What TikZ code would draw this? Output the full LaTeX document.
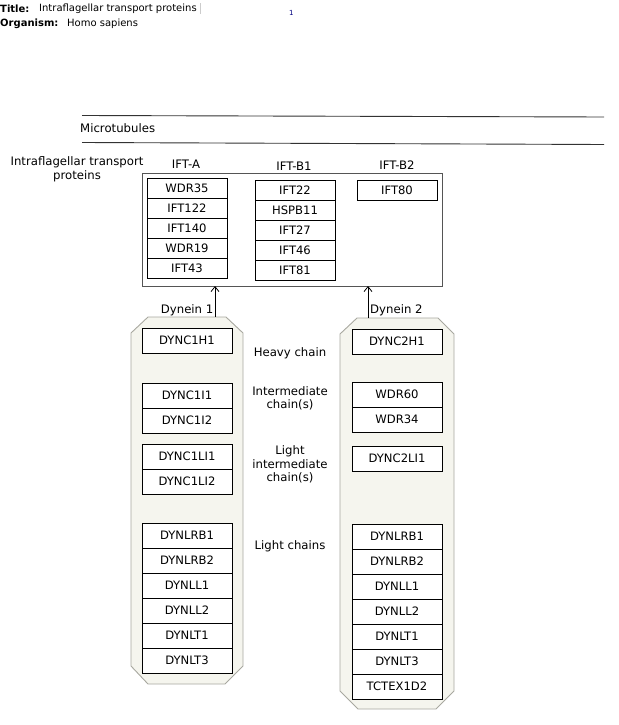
\documentclass[tikz,border=0pt]{standalone}
\usepackage{fontspec}
\setmainfont{DejaVu Sans}
\usetikzlibrary{arrows.meta}
\definecolor{octfill}{HTML}{F5F5EE}
\definecolor{octline}{HTML}{A8A8A0}
\definecolor{boxline}{HTML}{555555}
\tikzset{
  lbl/.style={font=\fontsize{11.7}{13.5}\selectfont, inner sep=0pt, align=center},
  ttl/.style={font=\fontsize{10}{12}\selectfont, inner sep=0pt, anchor=west},
  gene/.style={draw=black, line width=0.8pt, fill=white, minimum width=90pt, minimum height=25pt, inner sep=0pt, font=\fontsize{11.6}{13}\selectfont},
  ift/.style={draw=black, line width=0.8pt, fill=white, minimum width=80pt, minimum height=20pt, inner sep=0pt, font=\fontsize{11.6}{13}\selectfont},
  oct/.style={draw=octline, fill=octfill, line width=0.9pt},
  arr/.style={-{Straight Barb[length=5pt,width=8pt]}, line width=0.8pt},
}
\begin{document}
\begin{tikzpicture}[x=1pt,y=-1pt]
\useasboundingbox (0,0) rectangle (618,725);
% header
\node[ttl] (tl) at (0,9) {\textbf{Title:}};
\node[ttl] (tt) at (39,9) {Intraflagellar transport proteins};
\draw[gray!40, line width=0.6pt] (200,3.5) -- (200,14);
\node[ttl, font=\fontsize{7}{8}\selectfont, text=blue!50!black] (pg) at (289,13) {1};
\node[ttl] (ol) at (0,24) {\textbf{Organism:}};
\node[ttl] (ot) at (67,24) {Homo sapiens};
% microtubules
\coordinate (m1a) at (82,115.5);
\coordinate (m1b) at (604,117);
\coordinate (m2a) at (82,142.5);
\coordinate (m2b) at (604,144.5);
\draw[line width=0.9pt, black!80] (m1a) -- (m1b);
\draw[line width=0.9pt, black!80] (m2a) -- (m2b);
\node[lbl, anchor=west] (mt) at (80,128.5) {Microtubules};
% IFT
\node[lbl] (iftlbl) at (77,169.5) {Intraflagellar transport\\proteins};
\draw[line width=1pt, boxline] (142,173) rectangle (442,286);
\coordinate (iftA1) at (215,286);
\coordinate (iftA2) at (368,286);
\node[lbl] (la) at (186,164) {IFT-A};
\node[lbl] (lb1) at (294,166.5) {IFT-B1};
\node[lbl] (lb2) at (397,165.5) {IFT-B2};
\foreach \t [count=\i from 0] in {WDR35,IFT122,IFT140,WDR19,IFT43}
  \node[ift] (a\i) at (187,188+20*\i) {\t};
\foreach \t [count=\i from 0] in {IFT22,HSPB11,IFT27,IFT46,IFT81}
  \node[ift] (b\i) at (295,190+20*\i) {\t};
\node[ift] (c0) at (397,190) {IFT80};
% dynein octagons
\draw[oct] (148,317) -- (226,317) -- (243,333) -- (243,666) -- (225,684) -- (148,684) -- (131,666) -- (131,333) -- cycle;
\draw[oct] (357,318) -- (438,318) -- (454,334) -- (454,691) -- (436,709) -- (358,709) -- (340,691) -- (340,334) -- cycle;
\coordinate (d1top) at (215,317);
\coordinate (d2top) at (368,318);
\draw[arr] (d1top) -- (iftA1);
\draw[arr] (d2top) -- (iftA2);
\node[lbl, anchor=east] (d1l) at (213.5,310) {Dynein 1};
\node[lbl, anchor=west] (d2l) at (370,310) {Dynein 2};
% dynein 1 genes
\node[gene] (g1h) at (187,340.5) {DYNC1H1};
\node[gene] (g1i1) at (187,395.5) {DYNC1I1};
\node[gene] (g1i2) at (187,420.5) {DYNC1I2};
\node[gene] (g1li1) at (187,456.5) {DYNC1LI1};
\node[gene] (g1li2) at (187,481.5) {DYNC1LI2};
\foreach \t [count=\i from 0] in {DYNLRB1,DYNLRB2,DYNLL1,DYNLL2,DYNLT1,DYNLT3}
  \node[gene] (g1l\i) at (187,535.5+25*\i) {\t};
% dynein 2 genes
\node[gene] (g2h) at (397,341.5) {DYNC2H1};
\node[gene] (g2i1) at (397,394.5) {WDR60};
\node[gene] (g2i2) at (397,419.5) {WDR34};
\node[gene] (g2li1) at (397,458.5) {DYNC2LI1};
\foreach \t [count=\i from 0] in {DYNLRB1,DYNLRB2,DYNLL1,DYNLL2,DYNLT1,DYNLT3,TCTEX1D2}
  \node[gene] (g2l\i) at (397,536.5+25*\i) {\t};
% chain labels
\node[lbl] (hc) at (290,353) {Heavy chain};
\node[lbl] (ic) at (290,398.5) {Intermediate\\chain(s)};
\node[lbl] (lic) at (290,464.5) {Light\\intermediate\\chain(s)};
\node[lbl] (lc) at (290,546) {Light chains};
\end{tikzpicture}
\end{document}
